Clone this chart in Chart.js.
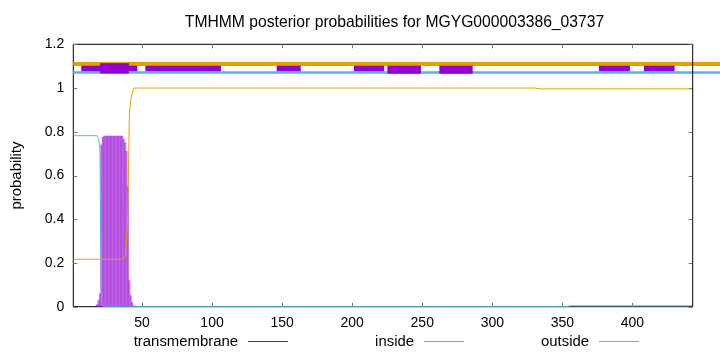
<!DOCTYPE html>
<html><head><meta charset="utf-8">
<script src="https://cdn.jsdelivr.net/npm/chart.js@4.4.1/dist/chart.umd.min.js"></script>
<style>html,body{margin:0;padding:0;background:#fff}#wrap{width:720px;height:352px;position:relative}</style>
</head><body><div id="wrap"><canvas id="c" width="720" height="352"></canvas></div>
<script>
// ---------- data ----------
const titleText = "TMHMM posterior probabilities for MGYG000003386_03737";
const yAxisLabel = "probability";
const seriesNames = ["transmembrane", "inside", "outside"];
const xTicks = [50, 100, 150, 200, 250, 300, 350, 400];
const yTicks = [0, 0.2, 0.4, 0.6, 0.8, 1, 1.2];
const yTickLabels = ["0", "0.2", "0.4", "0.6", "0.8", "1", "1.2"];
const xMin = 1, xMax = 443;

// transmembrane posterior (residues 17-44, zero elsewhere)
const tmResidues = [17,18,19,20,21,22,23,24,25,26,27,28,29,30,31,32,33,34,35,36,37,38,39,40,41,42,43,44];
const tmValues   = [0.003,0.01,0.03,0.06,0.74,0.775,0.78,0.78,0.78,0.78,0.78,0.78,0.78,0.78,0.78,0.78,0.78,0.78,0.78,0.78,0.765,0.75,0.71,0.55,0.12,0.05,0.02,0.005];

// inside posterior [residue, value]
const insidePoints = [[1,0.782],[18,0.782],[19,0.77],[20,0.72],[21,0.02],[22,0.004],[23,0],[352,0],[356,0.004],[443,0.004]];
// outside posterior [residue, value]
const outsidePoints = [[1,0.217],[36,0.217],[37,0.22],[38,0.235],[39,0.30],[40,0.45],[41,0.88],[42,0.945],[43,0.975],[44,0.997],[45,1.0],[330,1.0],[334,0.996],[443,0.996]];

// topology bands above the plot [start, end] in residues
const outsideBand = [[1, 462.5]];
const outsideBandLevel = 1.110;
const insideBand = [[1, 462.5]];
const insideBandLevel = 1.071;
const tmThinBand = [[6.7,46.7],[52.4,106.4],[146.1,163.3],[201.3,222.9],[376.1,398.2],[408.2,430.1],[443,462.5]];
const tmThinLevel = 1.089;
const tmThickBand = [[20.1,40.7],[225.1,249.1],[262.2,286.0]];
const tmThickLevels = [1.090, 1.084, 1.084];

// ---------- styles ----------
const C_TM = '#9400d3', C_IN = '#56b4e9', C_OUT = '#e69f00';
const FONT = "'Liberation Sans', Arial, sans-serif";
Chart.defaults.font.family = FONT;
Chart.defaults.font.size = 14;
Chart.defaults.color = '#000';

function segs(list, level) {
  const d = [];
  list.forEach(([a, b]) => { d.push({x:a, y:level}, {x:b, y:level}, {x:b, y:null}); });
  return d;
}
const pts = arr => arr.map(([x, y]) => ({x, y}));
const bandDs = (data, color, width, order) => ({
  type: 'line', data, borderColor: color, borderWidth: width, pointRadius: 0,
  borderCapStyle: 'butt', spanGaps: false, clip: false, order, tension: 0
});

const datasets = [
  bandDs(segs(outsideBand, outsideBandLevel), C_OUT, 4, 10),
  bandDs(segs(insideBand, insideBandLevel), C_IN, 2.5, 9),
  bandDs(segs(tmThinBand, tmThinLevel), C_TM, 5.6, 8),
  ...tmThickBand.map((s, i) => bandDs(segs([s], tmThickLevels[i]), C_TM, i === 0 ? 10.4 : 8, 7)),
  { type: 'bar', label: seriesNames[0], data: tmResidues.map((r, i) => ({x:r, y:tmValues[i]})),
    backgroundColor: 'rgba(148,0,211,0.55)', borderWidth: 0, barPercentage: 1, categoryPercentage: 1, order: 5 },
  { type: 'line', label: seriesNames[1], data: pts(insidePoints), borderColor: C_IN, borderWidth: 1,
    pointRadius: 0, tension: 0, order: 4, clip: 2 },
  { type: 'line', label: seriesNames[2], data: pts(outsidePoints), borderColor: C_OUT, borderWidth: 1,
    pointRadius: 0, tension: 0, order: 3, clip: 2 }
];

const legendItems = [
  {label: seriesNames[0], color: C_TM},
  {label: seriesNames[1], color: C_IN},
  {label: seriesNames[2], color: C_OUT}
];

const framePlugin = {
  id: 'frame',
  beforeDatasetsDraw(chart) {
    const {ctx, chartArea: a, scales: {x, y}} = chart;
    ctx.save();
    ctx.strokeStyle = '#000'; ctx.lineWidth = 1;
    ctx.beginPath();
    ctx.moveTo(a.right, a.top); ctx.lineTo(a.left, a.top); ctx.lineTo(a.left, a.bottom); ctx.lineTo(a.right, a.bottom);
    ctx.stroke();
    ctx.strokeStyle = '#777';
    ctx.beginPath();
    xTicks.forEach(v => { const px = Math.round(x.getPixelForValue(v)) + 0.5;
      ctx.moveTo(px, a.bottom); ctx.lineTo(px, a.bottom - 4);
      ctx.moveTo(px, a.top); ctx.lineTo(px, a.top + 4); });
    yTicks.forEach(v => { const py = Math.round(y.getPixelForValue(v)) + 0.5;
      ctx.moveTo(a.left, py); ctx.lineTo(a.left + 4, py);
      ctx.moveTo(a.right, py); ctx.lineTo(a.right - 4, py); });
    ctx.stroke();
    ctx.restore();
  },
  afterDatasetsDraw(chart) {
    const {ctx, chartArea: a} = chart;
    ctx.save();
    ctx.strokeStyle = '#000'; ctx.lineWidth = 1;
    ctx.beginPath(); ctx.moveTo(a.right, a.top); ctx.lineTo(a.right, a.bottom); ctx.stroke();
    ctx.restore();
  },
  afterDraw(chart) {
    const {ctx} = chart;
    ctx.save();
    ctx.fillStyle = '#000';
    ctx.font = '15.7px ' + FONT;
    ctx.textAlign = 'center'; ctx.textBaseline = 'alphabetic';
    ctx.fillText(titleText, 394.5, 26.5);
    ctx.font = '14.9px ' + FONT;
    ctx.textAlign = 'right';
    const xs = [238, 414, 589];
    legendItems.forEach((it, i) => {
      ctx.fillStyle = '#000';
      ctx.fillText(it.label, xs[i], 346);
      ctx.strokeStyle = it.color; ctx.lineWidth = 1;
      ctx.beginPath(); ctx.moveTo(xs[i] + 10, 341.5); ctx.lineTo(xs[i] + 50, 341.5); ctx.stroke();
    });
    ctx.restore();
  }
};

new Chart(document.getElementById('c'), {
  type: 'line',
  data: { datasets },
  options: {
    responsive: false, animation: false, devicePixelRatio: 1,
    layout: { padding: { top: 44.3, right: 27.3, left: 0, bottom: 0 } },
    plugins: { legend: { display: false }, tooltip: { enabled: false }, title: { display: false } },
    scales: {
      x: {
        type: 'linear', min: xMin, max: xMax, offset: false,
        grid: { display: false, drawTicks: false }, border: { display: false },
        afterBuildTicks: s => { s.ticks = xTicks.map(v => ({value: v})); },
        afterFit: s => { s.height = 45.3; },
        ticks: { autoSkip: false, maxRotation: 0, padding: 8, callback: v => String(v) }
      },
      y: {
        type: 'linear', min: 0, max: 1.2,
        grid: { display: false, drawTicks: false }, border: { display: false },
        afterBuildTicks: s => { s.ticks = yTicks.map(v => ({value: v})); },
        afterFit: s => { s.width = 73.3; },
        ticks: { padding: 9, callback: (v, i) => yTickLabels[i] },
        title: { display: true, text: yAxisLabel, font: { size: 14.9 }, padding: { top: 8, bottom: 0 } }
      }
    }
  },
  plugins: [framePlugin]
});
</script>
</body></html>
